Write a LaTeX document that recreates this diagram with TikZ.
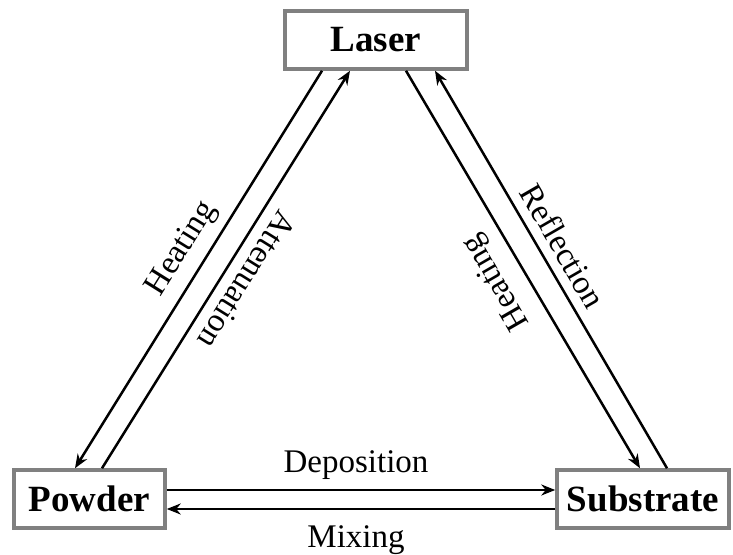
\documentclass[tikz,border=0pt]{standalone}
\usepackage{fontspec}
\setmainfont{Liberation Serif}
\usetikzlibrary{arrows.meta,positioning,calc}
\definecolor{boxgray}{rgb}{0.50,0.50,0.50}

\begin{document}
\begin{tikzpicture}[x=1pt,y=-1pt,
   box/.style={draw=boxgray,line width=3.5pt,fill=white,minimum height=58pt,
     inner sep=0pt,font=\fontsize{37}{43}\selectfont\bfseries},
   arr/.style={line width=2.5pt,-{Stealth[length=14pt,width=11pt]}},
   lbl/.style={font=\fontsize{33}{39}\selectfont,inner sep=0pt}]
  \useasboundingbox (0,0) rectangle (733,554);
  % the three boxes
  \node[box,minimum width=182pt] (laser)     at (376,40)  {Laser};
  \node[box,minimum width=151pt] (powder)    at (89.5,499) {Powder};
  \node[box,minimum width=172pt] (substrate) at (643,499) {Substrate};
  % laser <-> powder
  \draw[arr] ([xshift=-54pt]laser.south) -- ([xshift=-14.5pt]powder.north);
  \draw[arr] ([xshift=12.5pt]powder.north) -- ([xshift=-26pt]laser.south);
  \node[lbl,rotate=58]  (heatp) at (182,249) {Heating};
  \node[lbl,rotate=238] (atten) at (247,280) {Attenuation};
  % laser <-> substrate
  \draw[arr] ([xshift=30pt]laser.south) -- ([xshift=-3pt]substrate.north);
  \draw[arr] ([xshift=24pt]substrate.north) -- ([xshift=59pt]laser.south);
  \node[lbl,rotate=120]  (heats) at (497,282) {Heating};
  \node[lbl,rotate=-60]  (refl)  at (563,246) {Reflection};
  % powder <-> substrate
  \draw[arr] ([yshift=9pt]powder.east) -- ([yshift=9pt]substrate.west);
  \draw[arr] ([yshift=-10pt]substrate.west) -- ([yshift=-10pt]powder.east);
  \node[lbl,anchor=base] (depo) at (356,472) {Deposition};
  \node[lbl,anchor=base] (mix)  at (356,547) {Mixing};
\end{tikzpicture}
\end{document}
